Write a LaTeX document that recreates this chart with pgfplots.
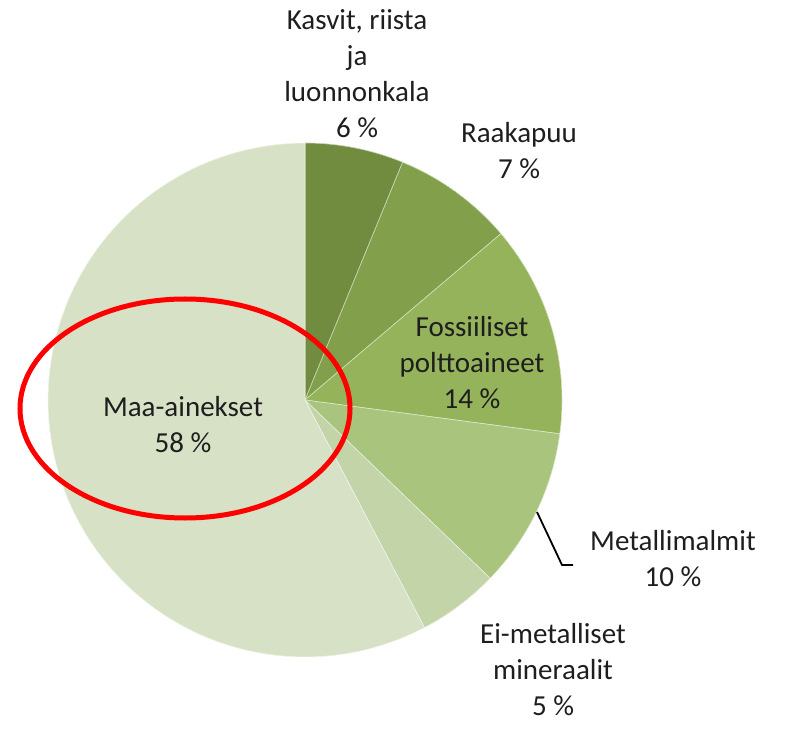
\documentclass[border=0pt]{standalone}
\usepackage{pgfplots}
\pgfplotsset{compat=1.18}
\usepackage{fontspec}
\setmainfont{Carlito}

\definecolor{cKasvit}{HTML}{718B3F}
\definecolor{cRaaka}{HTML}{82A04C}
\definecolor{cFossil}{HTML}{94B35A}
\definecolor{cMetal}{HTML}{A9C47D}
\definecolor{cEimet}{HTML}{C3D4A8}
\definecolor{cMaa}{HTML}{D7E1C5}
\definecolor{txt}{HTML}{1E1E1E}

% slice shares (%), clockwise from 12 o'clock:
% Kasvit 6.2, Raakapuu 7.6, Fossiiliset 13.3, Metallimalmit 10.1, Ei-metalliset 5.1, Maa-ainekset 57.7
% #1 = cumulative share before the slice, #2 = share of the slice, #3 = colour
\newcommand{\slice}[3]{%
  \addplot[fill=#3, draw=white!60!#3, line width=0.3pt, samples=80, variable=\t,
    domain={90-3.6*(#1+#2)}:{90-3.6*(#1)}]
    ({305+257*cos(\t)},{328+257*sin(\t)}) -- (axis cs:305,328) -- cycle;
}

\tikzset{lbl/.style={font=\fontsize{14.5}{18}\selectfont, text=txt, align=center, inner sep=0pt}}

\begin{document}
\begin{tikzpicture}
\begin{axis}[
  scale only axis,
  width=397.5pt, height=364pt,
  xmin=0, xmax=795, ymin=0, ymax=728,
  hide axis, clip=false,
  ]
% keep the page the size of the axis area
\path (rel axis cs:0,0) rectangle (rel axis cs:1,1);

\slice{0}{6.2}{cKasvit}
\slice{6.2}{7.6}{cRaaka}
\slice{13.8}{13.3}{cFossil}
\slice{27.1}{10.1}{cMetal}
\slice{37.2}{5.1}{cEimet}
\slice{42.3}{57.7}{cMaa}

% leader line for Metallimalmit
\addplot[black, line width=0.9pt] coordinates {(537,216) (562,163) (573,163)};

% red highlight round Maa-ainekset
\draw[red, line width=2.5pt] (axis cs:185,319.5) ellipse [x radius=165, y radius=109.5];

\node[lbl] at (axis cs:357,654) {Kasvit, riista\\ja\\luonnonkala\\6 \%};
\node[lbl] at (axis cs:519,577.5) {Raakapuu\\7 \%};
\node[lbl] at (axis cs:472,365.5) {Fossiiliset\\polttoaineet\\14 \%};
\node[lbl] at (axis cs:673,169.5) {Metallimalmit\\10 \%};
\node[lbl] at (axis cs:553,58) {Ei-metalliset\\mineraalit\\5 \%};
\node[lbl] at (axis cs:183,303) {Maa-ainekset\\58 \%};
\end{axis}
\end{tikzpicture}
\end{document}
